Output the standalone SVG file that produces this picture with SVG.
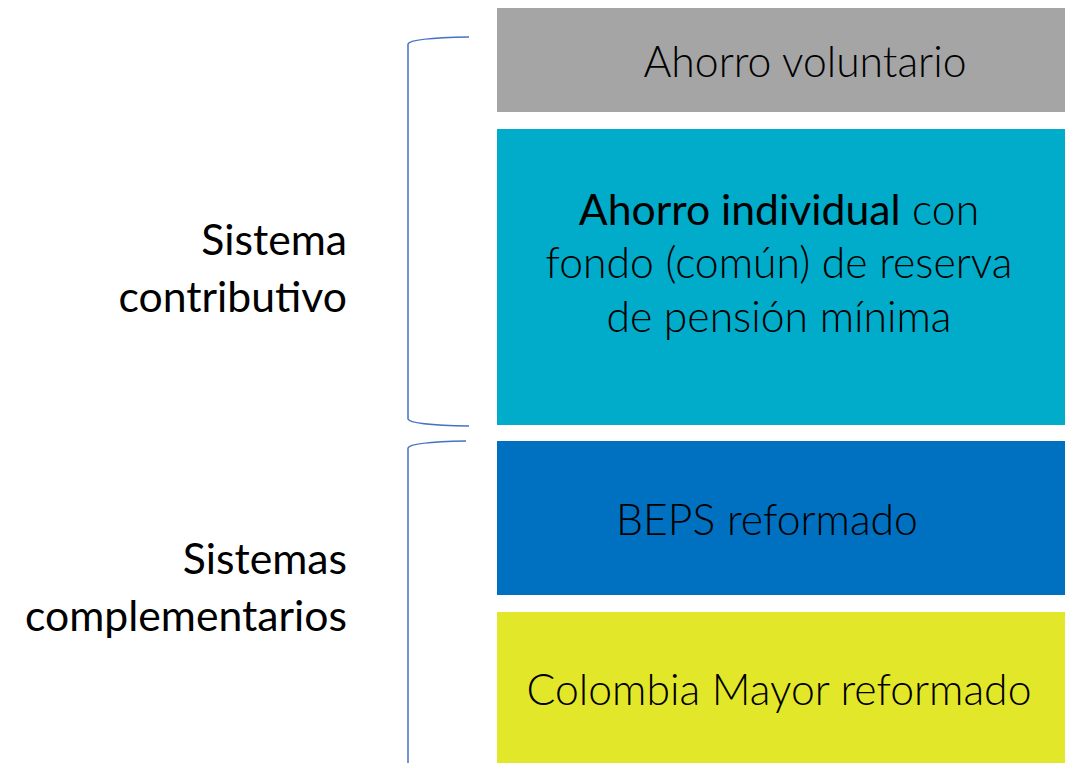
<svg xmlns="http://www.w3.org/2000/svg" width="1073" height="763" viewBox="0 0 1073 763">
<style>
.t{font-family:Lato,"Open Sans","Liberation Sans",sans-serif;font-size:42.7px;fill:#000;font-weight:300}
.r{font-weight:400}
.br{fill:none;stroke:#4472c4;stroke-width:1.5}
</style>
<rect width="1073" height="763" fill="#fff"/>
<g id="connectors">
<path class="br" d="M469,37 Q410,38 408,44 L408,419 Q410,425 469,426"/>
<path class="br" d="M466,441 Q410,442 408,448 L408,763"/>
</g>
<g id="ahorro-voluntario">
<rect x="497" y="8" width="568" height="104" fill="#a5a5a5"/>
<text class="t" x="805" y="77" text-anchor="middle">Ahorro voluntario</text>
</g>
<g id="ahorro-individual">
<rect x="497" y="129" width="568" height="296" fill="#00acc9"/>
<text class="t" x="779" y="225" text-anchor="middle"><tspan class="r">Ahorro individual</tspan> con</text>
<text class="t" x="779" y="278" text-anchor="middle">fondo (común) de reserva</text>
<text class="t" x="779" y="332" text-anchor="middle">de pensión mínima</text>
</g>
<g id="beps">
<rect x="497" y="441" width="568" height="154" fill="#0070c0"/>
<text class="t" x="767" y="535" text-anchor="middle">BEPS reformado</text>
</g>
<g id="colombia-mayor">
<rect x="497" y="612" width="568" height="151" fill="#e2e829"/>
<text class="t" x="779" y="705" text-anchor="middle">Colombia Mayor reformado</text>
</g>
<g id="sistema-contributivo">
<text class="t r" x="347" y="255" text-anchor="end">Sistema</text>
<text class="t r" x="347" y="312" text-anchor="end">contributivo</text>
</g>
<g id="sistemas-complementarios">
<text class="t r" x="347" y="574" text-anchor="end">Sistemas</text>
<text class="t r" x="347" y="631" text-anchor="end">complementarios</text>
</g>
</svg>
